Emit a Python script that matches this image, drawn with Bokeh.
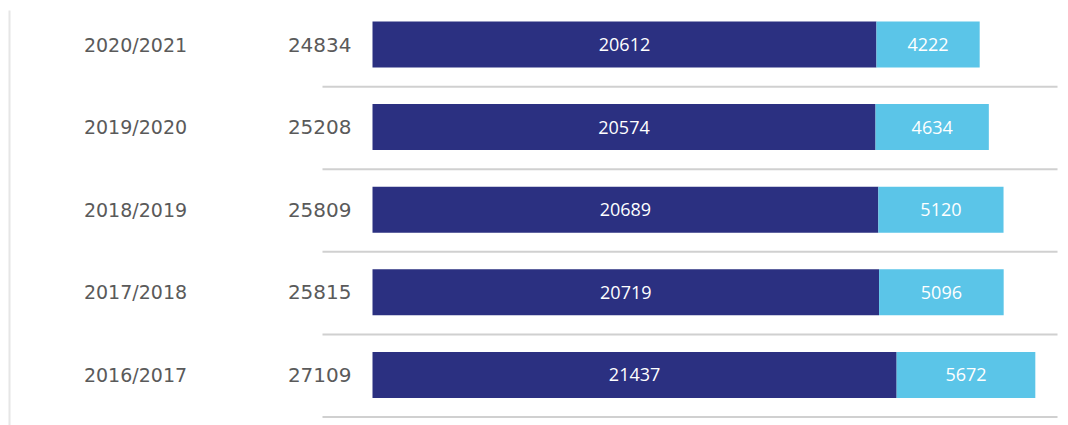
from bokeh.plotting import figure
from bokeh.models import Range1d, ColumnDataSource
from bokeh.core.properties import value
from bokeh.embed import file_html
from bokeh.resources import INLINE

years = ["2020/2021", "2019/2020", "2018/2019", "2017/2018", "2016/2017"]
dark_vals = [20612, 20574, 20689, 20719, 21437]
light_vals = [4222, 4634, 5120, 5096, 5672]
totals = [24834, 25208, 25809, 25815, 27109]

DARK = "#2b3081"
LIGHT = "#5bc5e8"
GRAY_TXT = "#5a5a5a"

W, H = 1068, 425
px_per_unit = 0.02445
x0_px = 372
x_start = -x0_px / px_per_unit
x_end = (W - x0_px) / px_per_unit

row_px = 82.6
first_px = 44
y_top = -first_px / row_px
y_bot = (H - first_px) / row_px

p = figure(width=W, height=H, output_backend="svg", toolbar_location=None,
           x_range=Range1d(x_start, x_end), y_range=Range1d(y_bot, y_top),
           min_border=0, min_border_left=0, min_border_right=0,
           min_border_top=0, min_border_bottom=0)
p.axis.visible = False
p.grid.visible = False
p.outline_line_color = None
p.background_fill_color = "white"
p.border_fill_color = "white"

idx = list(range(len(years)))
lefts_light = dark_vals
rights_light = [d + l for d, l in zip(dark_vals, light_vals)]
src = ColumnDataSource(dict(
    y=idx, dark=dark_vals, light_l=lefts_light, light_r=rights_light,
    years=years, totals=[str(t) for t in totals],
    dark_lbl=[str(v) for v in dark_vals], light_lbl=[str(v) for v in light_vals],
    dark_mid=[v / 2 for v in dark_vals],
    light_mid=[d + l / 2 for d, l in zip(dark_vals, light_vals)],
    sep_y=[i + 0.51 for i in idx],
))

bar_h = 46 / row_px
p.hbar(y="y", left=0, right="dark", height=bar_h, fill_color=DARK,
       line_color=None, source=src)
p.hbar(y="y", left="light_l", right="light_r", height=bar_h, fill_color=LIGHT,
       line_color=None, source=src)

# separator lines
sep_x0 = (322 - x0_px) / px_per_unit
sep_x1 = (1057 - x0_px) / px_per_unit
p.segment(x0=sep_x0, x1=sep_x1, y0="sep_y", y1="sep_y", line_color="#d0d0d0",
          line_width=2, source=src)

# left vertical line
vx = (9 - x0_px) / px_per_unit
p.segment(x0=[vx], x1=[vx], y0=[(10 - first_px) / row_px], y1=[y_bot],
          line_color="#e6e6e6", line_width=2)

# labels inside bars
p.text(x="dark_mid", y="y", text="dark_lbl", text_align="center",
       text_baseline="middle", text_color="white", text_font=value("Open Sans"),
       text_font_size="18px", source=src)
p.text(x="light_mid", y="y", text="light_lbl", text_align="center",
       text_baseline="middle", text_color="white", text_font=value("Open Sans"),
       text_font_size="18px", source=src)

# year labels
p.text(x=(135 - x0_px) / px_per_unit, y="y", text="years", text_align="center",
       text_baseline="middle", text_color=GRAY_TXT, text_font=value("DejaVu Sans"),
       text_font_size="19px", source=src)
# totals
p.text(x=(351 - x0_px) / px_per_unit, y="y", text="totals", text_align="right",
       text_baseline="middle", text_color=GRAY_TXT, text_font=value("DejaVu Sans"),
       text_font_size="20px", source=src)

open("out.html", "w").write(file_html(p, INLINE))
